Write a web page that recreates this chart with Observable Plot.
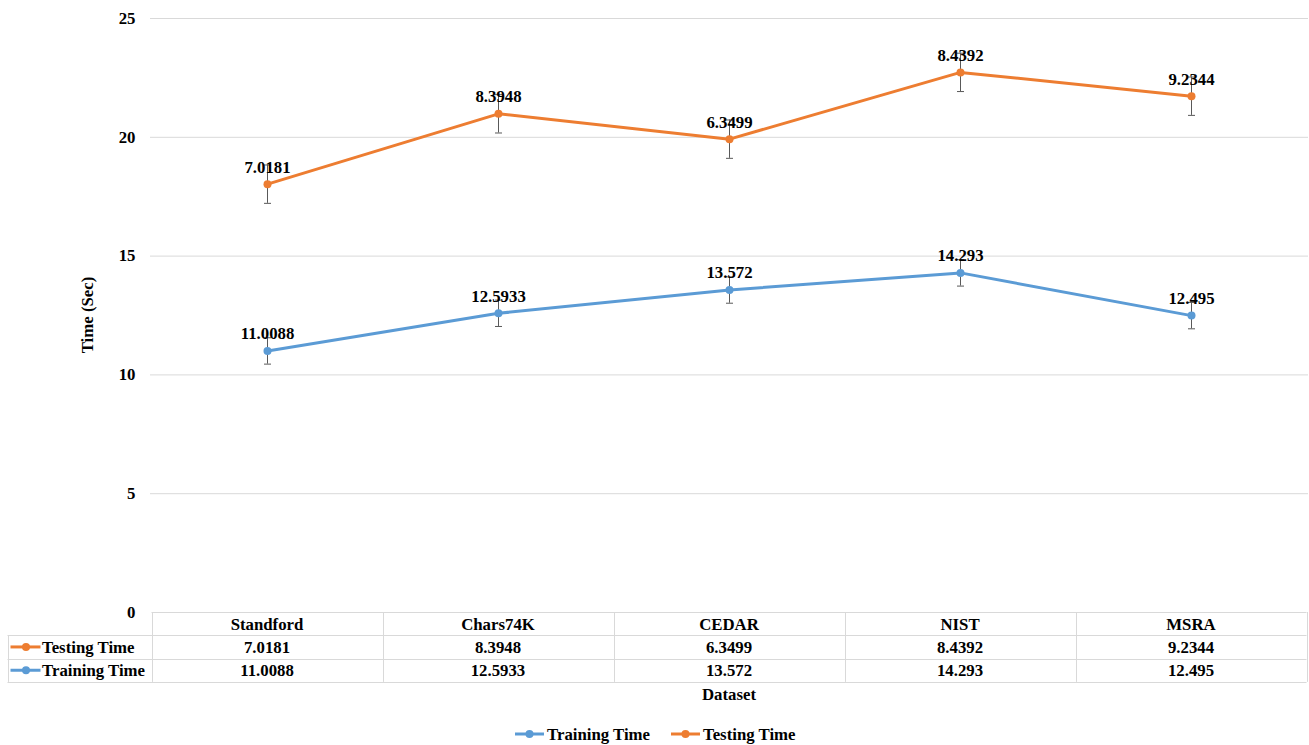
<!DOCTYPE html>
<html>
<head>
<meta charset="utf-8">
<script src="https://cdn.jsdelivr.net/npm/d3@7"></script>
<script src="https://cdn.jsdelivr.net/npm/@observablehq/plot@0.6"></script>
<style>
  body { margin: 0; background: #fff; }
  svg { display: block; }
</style>
</head>
<body>
<div id="chart"></div>
<script>
// Runtime per dataset, in seconds
const datasets = ["Standford", "Chars74K", "CEDAR", "NIST", "MSRA"];
const trainingTime = [11.0088, 12.5933, 13.572, 14.293, 12.495];
const testingTime = [7.0181, 8.3948, 6.3499, 8.4392, 9.2344];
// Standard-error bar half-lengths for each plotted series
const trainingErr = 0.555;
const testingErr = 0.807;
const yTicks = [0, 5, 10, 15, 20, 25];
const seriesNames = ["Training Time", "Testing Time"];

const BLUE = "#5B9BD5";
const ORANGE = "#ED7D31";
const GRID = "#D9D9D9";
const ERR = "#595959";
const FONT = "'Liberation Serif', 'Times New Roman', serif";
const FS = 16.8;

// Testing Time is stacked on top of Training Time
const rows = datasets.map((d, i) => ({
  dataset: d,
  training: trainingTime[i],
  testing: testingTime[i],
  stacked: trainingTime[i] + testingTime[i]
}));

// horizontal cap for the error bars
const capSymbol = {
  draw(ctx, size) {
    const w = Math.sqrt(size / Math.PI);
    ctx.moveTo(-w, 0);
    ctx.lineTo(w, 0);
  }
};

function errorMarks(yKey, err) {
  return [
    Plot.ruleX(rows, {x: "dataset", y1: d => d[yKey] - err, y2: d => d[yKey] + err, stroke: ERR, strokeWidth: 1}),
    Plot.dot(rows, {x: "dataset", y: d => d[yKey] - err, symbol: capSymbol, r: 3.5, stroke: ERR, strokeWidth: 1, fill: "none"}),
    Plot.dot(rows, {x: "dataset", y: d => d[yKey] + err, symbol: capSymbol, r: 3.5, stroke: ERR, strokeWidth: 1, fill: "none"})
  ];
}

function seriesMarks(yKey, labelKey, color) {
  return [
    Plot.line(rows, {x: "dataset", y: yKey, stroke: color, strokeWidth: 3}),
    Plot.dot(rows, {x: "dataset", y: yKey, r: 4, fill: color}),
    Plot.text(rows, {x: "dataset", y: yKey, text: d => String(d[labelKey]), dy: -17,
      fontSize: FS, fontWeight: "bold", fill: "#000"})
  ];
}

const plot = Plot.plot({
  width: 1309,
  height: 745,
  marginLeft: 150,
  marginRight: 1,
  marginTop: 18,
  marginBottom: 133,
  style: {fontFamily: FONT, fontSize: FS + "px", fontWeight: "bold", color: "#000", background: "#fff"},
  x: {type: "point", domain: datasets, padding: 0.5, axis: null},
  y: {domain: [0, 25], axis: null},
  marks: [
    Plot.gridY(yTicks.filter(t => t > 0), {stroke: GRID, strokeOpacity: 1, strokeWidth: 1}),
    Plot.axisY(yTicks, {tickSize: 0, tickPadding: 15, label: null, fontWeight: "bold", fill: "#000"}),
    ...errorMarks("training", trainingErr),
    ...errorMarks("stacked", testingErr),
    ...seriesMarks("training", "training", BLUE),
    ...seriesMarks("stacked", "testing", ORANGE)
  ]
});

document.getElementById("chart").appendChild(plot);

// Data table, axis titles and legend, positioned from the plot's scales
const svg = d3.select(plot);
const xs = plot.scale("x");
const ys = plot.scale("y");
const colStep = xs.apply(datasets[1]) - xs.apply(datasets[0]);
const tableLeft = xs.apply(datasets[0]) - colStep / 2;
const tableRight = xs.apply(datasets[datasets.length - 1]) + colStep / 2;
const tableTop = ys.apply(0);
const rowH = 23.3;
const legendLeft = 7.5;

const g = svg.append("g")
  .attr("font-family", FONT)
  .attr("font-size", FS)
  .attr("font-weight", "bold")
  .attr("text-anchor", "start")
  .attr("fill", "#000");

const lines = g.append("g").attr("stroke", GRID).attr("stroke-width", 1).attr("fill", "none");
const hline = (x1, x2, y) => lines.append("line").attr("x1", x1).attr("x2", x2).attr("y1", Math.round(y) + 0.5).attr("y2", Math.round(y) + 0.5);
const vline = (x, y1, y2) => lines.append("line").attr("x1", Math.round(x) + 0.5).attr("x2", Math.round(x) + 0.5).attr("y1", y1).attr("y2", y2);

hline(tableLeft, tableRight, tableTop);
for (let r = 1; r <= 3; r++) hline(legendLeft, tableRight, tableTop + r * rowH);
vline(legendLeft, tableTop + rowH, tableTop + 3 * rowH);
for (let c = 0; c <= datasets.length; c++) vline(tableLeft + c * colStep, tableTop, tableTop + 3 * rowH);

// header row
datasets.forEach(d => {
  g.append("text").attr("x", xs.apply(d)).attr("y", tableTop + rowH / 2 + 6)
    .attr("text-anchor", "middle").text(d);
});

// series rows: Testing Time first, then Training Time
const tableRows = [
  {name: seriesNames[1], values: testingTime, color: ORANGE},
  {name: seriesNames[0], values: trainingTime, color: BLUE}
];
tableRows.forEach((row, r) => {
  const cy = tableTop + (r + 1.5) * rowH;
  g.append("line").attr("x1", legendLeft + 3).attr("x2", legendLeft + 33)
    .attr("y1", cy).attr("y2", cy).attr("stroke", row.color).attr("stroke-width", 3);
  g.append("circle").attr("cx", legendLeft + 18.5).attr("cy", cy).attr("r", 4).attr("fill", row.color);
  g.append("text").attr("x", legendLeft + 34.5).attr("y", cy + 6)
    .attr("text-anchor", "start").text(row.name);
  row.values.forEach((v, i) => {
    g.append("text").attr("x", xs.apply(datasets[i])).attr("y", cy + 6)
      .attr("text-anchor", "middle").text(String(v));
  });
});

// x axis title
g.append("text").attr("x", (tableLeft + tableRight) / 2).attr("y", tableTop + 3 * rowH + 18.5)
  .attr("text-anchor", "middle").text("Dataset");

// y axis title
const midY = (ys.apply(0) + ys.apply(25)) / 2;
g.append("text").attr("transform", `translate(${tableLeft - 59},${midY}) rotate(-90)`)
  .attr("text-anchor", "middle").text("Time (Sec)");

// bottom legend
const legendItems = [
  {name: seriesNames[0], color: BLUE, x: 515},
  {name: seriesNames[1], color: ORANGE, x: 671}
];
legendItems.forEach(item => {
  const cy = 734;
  g.append("line").attr("x1", item.x).attr("x2", item.x + 29)
    .attr("y1", cy).attr("y2", cy).attr("stroke", item.color).attr("stroke-width", 3);
  g.append("circle").attr("cx", item.x + 14.5).attr("cy", cy).attr("r", 4).attr("fill", item.color);
  g.append("text").attr("x", item.x + 32).attr("y", cy + 6)
    .attr("text-anchor", "start").text(item.name);
});
</script>
</body>
</html>
